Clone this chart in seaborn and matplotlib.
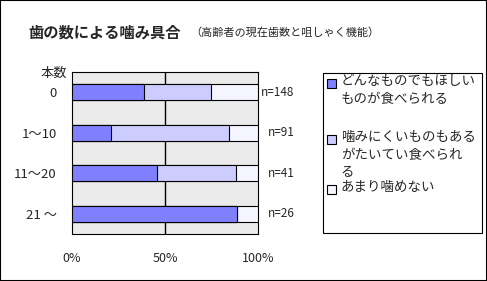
import matplotlib
matplotlib.use("Agg")
import matplotlib.pyplot as plt
import matplotlib.patches as mpatches
import seaborn as sns
import pandas as pd

# Datos
categorias = ["0", "1～10", "11～20", "21 ～"]
n_personas = [148, 91, 41, 26]
series = ["どんなものでもほしい\nものが食べられる",
          "噛みにくいものもある\nがたいてい食べられ\nる",
          "あまり噛めない"]
pct_bien = [38.5, 20.9, 45.5, 88.5]
pct_algo = [36.0, 63.7, 42.5, 0.0]
pct_mal = [25.5, 15.4, 12.0, 11.5]
colores = ["#8080FF", "#CCCCFF", "#F5F5FF"]

sns.set_style("white")
plt.rcParams["font.family"] = ["Noto Sans CJK JP", "DejaVu Sans"]

df = pd.DataFrame({"cat": categorias, "bien": pct_bien, "algo": pct_algo, "mal": pct_mal})
df["c1"] = df["bien"]
df["c2"] = df["bien"] + df["algo"]
df["c3"] = df["c2"] + df["mal"]

W, H = 487, 281
fig = plt.figure(figsize=(W / 100, H / 100), dpi=100)
ax = fig.add_axes([72 / W, 1 - 234 / H, 186 / W, 162 / H])
ax.set_facecolor("#EBEBEB")

# Barras apiladas (acumuladas, de mayor a menor)
for col, color in zip(["c3", "c2", "c1"], colores[::-1]):
    sns.barplot(data=df, x=col, y="cat", orient="h", color=color, width=0.4,
                edgecolor="black", linewidth=0.8, saturation=1, ax=ax, zorder=3)

ax.set_xlim(0, 100)
ax.set_ylim(3.5, -0.5)
ax.axvline(50, color="black", lw=1, zorder=1)
for s in ax.spines.values():
    s.set_color("black")
    s.set_linewidth(0.8)

ax.set_xticks([0, 50, 100])
ax.set_xticklabels(["0%", "50%", "100%"])
ax.set_yticks(range(len(categorias)))
ax.set_yticklabels(categorias)
ax.set_yticks([0.5, 1.5, 2.5], minor=True)
ax.tick_params(axis="x", length=0, pad=13, labelsize=9)
ax.tick_params(axis="y", which="major", length=0, pad=11, labelsize=9.5)
ax.tick_params(axis="y", which="minor", length=3, direction="in", color="black", width=0.8)
ax.set_xlabel("")
ax.set_ylabel("")

# Etiquetas n=
for i, n in enumerate(n_personas):
    ax.text(119.5, i, f"n={n}", ha="right", va="center", fontsize=8.5, clip_on=False)

fig.text(67 / W, 1 - 73 / H, "本数", ha="right", va="center", fontsize=9.5)

# Títulos
fig.text(28 / W, 1 - 33 / H, "歯の数による噛み具合", fontsize=11, fontweight="bold",
         ha="left", va="center")
fig.text(190 / W, 1 - 33 / H, "（高齢者の現在歯数と咀しゃく機能）", fontsize=8,
         ha="left", va="center")

# Leyenda (caja y elementos)
fig.patches.append(mpatches.Rectangle((323 / W, 1 - 233 / H), 159 / W, 160 / H,
                                      transform=fig.transFigure, fill=False,
                                      edgecolor="black", lw=0.8))
leyenda_y = [83, 139, 189]
for etiqueta, color, y in zip(series, colores, leyenda_y):
    fig.patches.append(mpatches.Rectangle((327 / W, 1 - (y + 4.5) / H), 9 / W, 9 / H,
                                          transform=fig.transFigure, facecolor=color,
                                          edgecolor="black", lw=0.8))
    fig.text(341 / W, 1 - (y - 8.5) / H, etiqueta, ha="left", va="top", fontsize=9.7,
             linespacing=1.3)

# Marco exterior
fig.patches.append(mpatches.Rectangle((0, 0), 1, 1, transform=fig.transFigure, fill=False,
                                      edgecolor="black", lw=1.5))

plt.savefig("out.png", dpi=100)
